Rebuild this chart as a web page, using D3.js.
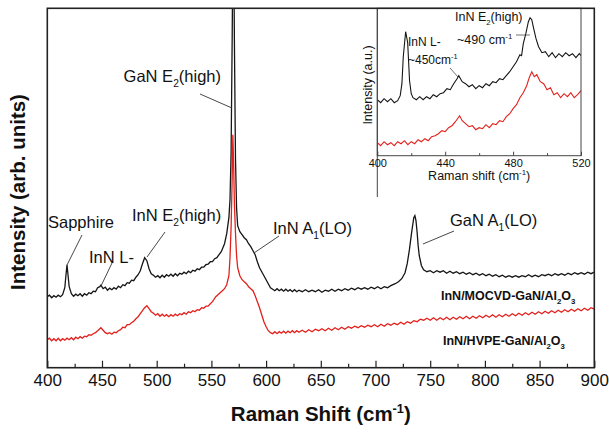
<!DOCTYPE html>
<html>
<head>
<meta charset="utf-8">
<script src="https://cdn.jsdelivr.net/npm/d3@7"></script>
<style>
  body { margin: 0; background: #fff; }
  text { font-family: "Liberation Sans", Arial, sans-serif; fill: #111; }
</style>
</head>
<body>
<script>
// Raman spectra, [shift cm-1, intensity arb. units]
var mocvdMain = [[400,71],[402,72.5],[404,70],[406,72],[408,70.5],[410,72.5],[412,71],[414,73],[416,80],[417,92],[418,103],[419,92],[420,81],[422,74],[424,71.5],[426,73.5],[428,72],[430,74],[432,71.5],[434,74],[436,72.5],[438,75],[440,74],[442,76.5],[444,76],[446,80],[448,81],[449,82.5],[451,79],[453,80.5],[455,77.5],[457,79.5],[459,78],[461,80],[463,78.5],[465,81.5],[467,80],[469,83],[471,82],[473,85],[475,84.5],[477,87.5],[479,87],[481,90.5],[483,93],[485,97],[487,104],[489,110],[491,107],[493,99],[495,94],[497,92.5],[499,90.5],[501,92],[503,90],[505,92.5],[507,90.5],[509,93],[511,91.5],[513,93.5],[515,91.5],[517,94],[519,92],[521,94.5],[523,93.5],[525,95.5],[527,94],[529,96.5],[531,95],[533,97.5],[535,96.5],[537,99],[539,98],[541,100.5],[543,100.5],[545,103],[547,103.5],[549,106],[551,106],[553,109],[555,110],[557,113],[559,116],[562,124],[564,134],[566,150],[567,168],[568,215],[569,330],[569.6,420],[570.4,420],[571,330],[572,210],[573,160],[574,142],[576,136],[578,133],[580,130],[582,128],[584,124],[586,121],[588,117],[590,113],[592,106],[594,100],[596,96],[598,92],[600,88],[602,84],[604,80],[606,78.5],[608,77],[610,79],[612,77],[614,78.5],[616,76.5],[618,78.5],[620,76.5],[622,78],[624,76],[626,78],[628,76],[630,77.5],[633,76],[636,78],[639,76],[642,77.5],[645,76],[648,78],[651,75.5],[654,77.5],[657,76.5],[660,78.5],[663,76.5],[666,78.5],[669,77],[672,79],[675,77.5],[678,79.5],[681,78],[684,80],[687,78.5],[690,80],[693,78.5],[696,80.5],[699,79],[702,81],[705,79],[708,81],[711,80],[714,82],[718,84],[721,86],[724,89],[727,95],[729,104],[731,118],[733,135],[735,150],[736,152],[737,147],[738,136],[739,122],[740,112],[742,102],[744,98],[747,96],[750,97],[753,95],[756,97],[759,95.5],[762,97],[765,94.5],[768,96.5],[771,94.5],[774,96],[777,94],[780,95.5],[783,93.5],[786,95],[789,93],[792,94.5],[795,92.5],[798,94],[801,92],[804,93.5],[807,91.5],[810,93],[813,91],[816,92.5],[819,90.5],[822,92],[825,90.5],[828,92],[831,90.5],[834,92],[837,91],[840,93],[843,91],[846,92.5],[849,91],[852,93],[855,92],[858,93.5],[861,92],[864,94],[867,92.5],[870,94],[873,92.5],[876,94.5],[879,93],[882,95],[885,93.5],[888,95],[891,93.5],[894,95.5],[897,94],[900,95.5]];

var hvpeMain = [[400,28],[402,29.5],[404,27],[406,29],[408,27],[410,29.5],[412,27],[414,29],[416,27.5],[418,29.5],[420,28],[422,30],[424,28],[426,30.5],[428,29],[430,31],[432,29.5],[434,31.5],[436,31],[438,33],[440,32.5],[442,34],[444,35],[446,37],[448,39],[449,40],[451,37.5],[453,35],[455,34],[457,35],[459,33.5],[461,35.5],[463,35],[465,37],[467,38],[469,40.5],[471,40],[473,43],[475,43],[477,45],[479,46.5],[481,49],[483,51],[485,54],[487,57],[489,60],[491,62],[493,59],[495,56],[497,54.5],[499,52.5],[501,54],[503,51.5],[505,53.5],[507,51.5],[509,53],[511,51],[513,53],[515,51.5],[517,53.5],[519,52],[521,54],[523,53],[525,55],[527,53.5],[529,56],[531,55],[533,57],[535,56],[537,58],[539,57.5],[541,60],[543,59.5],[545,61.5],[547,61.5],[549,64],[551,66],[554,71],[557,74],[560,77],[562,79],[564,83],[566,92],[567,110],[568,140],[569,190],[569.6,233],[570.4,200],[571,165],[572,135],[573,112],[574,100],[576,92],[578,88],[580,86],[582,84],[584,81],[586,79],[588,77],[590,72],[592,66],[594,60],[596,53],[598,46],[600,41],[602,37],[604,35],[606,34],[608,36],[610,34],[612,36],[614,34.5],[616,36.5],[618,34.5],[620,36.5],[622,35],[624,37],[626,35],[628,37],[630,35.5],[633,37.5],[636,35.5],[639,38],[642,36],[645,38.5],[648,37],[651,39],[654,37],[657,39.5],[660,37.5],[663,40],[666,38],[669,40.5],[672,38.5],[675,41],[678,39.5],[681,41.5],[684,40],[687,42],[690,40.5],[693,42.5],[696,41],[699,43],[702,41],[705,43.5],[708,41.5],[711,44],[714,42.5],[717,44.5],[720,43],[723,45.5],[726,43.5],[729,46],[732,44.5],[735,47],[738,46],[741,48.5],[744,47.5],[747,49.5],[750,47.5],[753,50],[756,47.5],[759,50],[762,48],[765,50.5],[768,48],[771,50.5],[774,48.5],[777,51],[780,49],[783,51.5],[786,49],[789,51.5],[792,49.5],[795,52],[798,50],[801,52.5],[804,50.5],[807,53],[810,50.5],[813,53],[816,51],[819,53.5],[822,51.5],[825,54],[828,52],[831,54.5],[834,52.5],[837,55],[840,53],[843,55.5],[846,53.5],[849,56],[852,54],[855,56.5],[858,54.5],[861,57],[864,55],[867,57.5],[870,55.5],[873,58],[876,56],[879,58.5],[882,56.5],[885,59],[888,57],[891,59.5],[894,57.5],[897,60],[900,58.5]];

var mocvdInset = [[400,56],[402,53],[404,57],[406,54],[408,57],[410,53],[412,55],[413.5,60],[414.5,72],[415.3,99],[416.7,124],[417.9,113],[419,75],[420,62],[421,58],[423,56],[425,59],[427,56],[429,59],[431,57],[433,61],[435,59],[437,62],[439,63],[441,67],[443,66],[445,72],[447,77],[448,80],[450,74],[452,72],[454,69],[456,71],[458,67],[460,70],[462,68],[464,72],[466,70],[468,74],[470,73],[472,77],[474,76],[476,80],[478,84],[480,89],[482,94],[484,101],[485,100],[486,112],[487.5,122],[489,134],[490,138],[491,136],[492,128],[493.5,117],[495,109],[497,103],[499,104],[501,99],[503,103],[505,98],[507,102],[509,99],[511,103],[513,100],[515,102],[517,98],[519,102],[520,100]];

var hvpeInset = [[400,13],[402,10],[404,14],[406,11],[408,13],[410,10],[412,14],[414,12],[416,15],[418,11],[420,14],[422,12],[424,16],[426,14],[428,17],[430,15],[432,19],[434,20],[436,22],[438,25],[440,24],[442,28],[444,30],[446,34],[448.5,40],[450,35],[452,32],[454,29],[456,30],[458,26],[460,28],[462,27],[464,31],[466,28],[468,32],[470,31],[472,35],[474,34],[476,39],[478,42],[480,47],[482,51],[484,58],[486,63],[488,70],[489.5,78],[491,84],[492.5,79],[494,81],[496,74],[498,72],[500,66],[502,68],[504,61],[506,63],[508,58],[510,62],[512,59],[514,63],[516,58],[518,61],[520,65]];

var mainTicks = [400, 450, 500, 550, 600, 650, 700, 750, 800, 850, 900];
var mainMinor = [425, 475, 525, 575, 625, 675, 725, 775, 825, 875];
var insetTicks = [400, 440, 480, 520];
var insetMinor = [420, 460, 500];

window.onload = function(){
    var svg, main, inset, x, y, xi, yi, line, linei;

    svg = d3.select('body')
        .append('svg')
        .attr('width', 609)
        .attr('height', 432);

    svg.append('rect').attr('width', 609).attr('height', 432).attr('fill', '#fff');

    // main plot area
    var L = 47.3, R = 594.3, T = 8.3, B = 367.7;

    x = d3.scaleLinear().domain([400, 900]).range([L, R]);
    y = d3.scaleLinear().domain([0, 359.4]).range([B, T]);

    svg.append('clipPath').attr('id', 'clipMain')
        .append('rect').attr('x', L).attr('y', T).attr('width', R - L).attr('height', B - T);

    line = d3.line()
        .x(function(d){ return x(d[0]); })
        .y(function(d){ return y(d[1]); });

    main = svg.append('g').attr('clip-path', 'url(#clipMain)');

    main.append('path').datum(hvpeMain)
        .attr('d', line).attr('fill', 'none')
        .attr('stroke', '#e3201b').attr('stroke-width', 1.3);

    main.append('path').datum(mocvdMain)
        .attr('d', line).attr('fill', 'none')
        .attr('stroke', '#151515').attr('stroke-width', 1.3);

    // x axis, ticks pointing inwards
    var xAxis = svg.append('g').attr('transform', 'translate(0,' + B + ')')
        .call(d3.axisBottom(x).tickValues(mainTicks).tickSize(-7).tickPadding(6).tickFormat(d3.format('d')));
    xAxis.select('.domain').remove();
    xAxis.selectAll('text').attr('font-size', 17).attr('font-family', '"Liberation Sans", Arial, sans-serif').attr('fill', '#111');
    xAxis.selectAll('line').attr('stroke', '#222').attr('stroke-width', 1.2);

    var xMinor = svg.append('g').attr('transform', 'translate(0,' + B + ')')
        .call(d3.axisBottom(x).tickValues(mainMinor).tickSize(-4).tickFormat(''));
    xMinor.select('.domain').remove();
    xMinor.selectAll('line').attr('stroke', '#222').attr('stroke-width', 1.2);

    // labels with sub / superscripts
    function label(g, px, py, parts, size, opts){
        opts = opts || {};
        var t = g.append('text').attr('x', px).attr('y', py)
            .attr('font-size', size)
            .attr('font-weight', opts.bold ? 'bold' : 'normal')
            .attr('text-anchor', opts.anchor || 'start');
        if (opts.rotate) t.attr('transform', 'rotate(-90,' + px + ',' + py + ')');
        var shift = 0;
        parts.forEach(function(p){
            var target = p.sub ? size * 0.32 : (p.sup ? -size * 0.4 : 0);
            t.append('tspan')
                .attr('dy', target - shift)
                .attr('font-size', (p.sub || p.sup) ? size * 0.62 : size)
                .text(p.t);
            shift = target;
        });
        return t;
    }

    function leader(g, x1, y1, x2, y2, w){
        g.append('line').attr('x1', x1).attr('y1', y1).attr('x2', x2).attr('y2', y2)
            .attr('stroke', '#333').attr('stroke-width', w || 0.9);
    }

    // axis titles
    label(svg, (L + R) / 2, 421, [{t: 'Raman Shift (cm'}, {t: '-1', sup: true}, {t: ')'}], 20.5, {bold: true, anchor: 'middle'});
    label(svg, 25, 192, [{t: 'Intensity (arb. units)'}], 20.5, {bold: true, anchor: 'middle', rotate: true});

    // peak annotations
    label(svg, 48, 227.5, [{t: 'Sapphire'}], 16.5);
    leader(svg, 82, 235, 67, 265);
    label(svg, 89, 263, [{t: 'InN L-'}], 16.5);
    leader(svg, 112, 263, 101, 286);
    label(svg, 132, 221, [{t: 'InN E'}, {t: '2', sub: true}, {t: '(high)'}], 16.5);
    leader(svg, 165, 232, 147, 257);
    label(svg, 221, 82, [{t: 'GaN E'}, {t: '2', sub: true}, {t: '(high)'}], 16.5, {anchor: 'end'});
    leader(svg, 200, 94, 232, 108);
    label(svg, 273, 233.5, [{t: 'InN A'}, {t: '1', sub: true}, {t: '(LO)'}], 16.5);
    leader(svg, 279, 236, 254, 253);
    label(svg, 450, 225.5, [{t: 'GaN A'}, {t: '1', sub: true}, {t: '(LO)'}], 16.5);
    leader(svg, 454, 231, 423, 244);

    // sample names
    label(svg, 441, 300, [{t: 'InN/MOCVD-GaN/Al'}, {t: '2', sub: true}, {t: 'O'}, {t: '3', sub: true}], 12.5, {bold: true});
    label(svg, 443, 345, [{t: 'InN/HVPE-GaN/Al'}, {t: '2', sub: true}, {t: 'O'}, {t: '3', sub: true}], 12.5, {bold: true});

    // inset
    var iL = 377.3, iR = 581, iT = 8.3, iB = 155.7;
    svg.append('rect').attr('x', iL).attr('y', T).attr('width', R - iL).attr('height', 197 - T).attr('fill', '#fff');
    svg.append('line').attr('x1', iL).attr('x2', iL).attr('y1', T).attr('y2', 197)
        .attr('stroke', '#444').attr('stroke-width', 1);

    xi = d3.scaleLinear().domain([400, 520]).range([iL, iR]);
    yi = d3.scaleLinear().domain([0, 147.4]).range([iB, iT]);

    svg.append('clipPath').attr('id', 'clipInset')
        .append('rect').attr('x', iL).attr('y', iT).attr('width', iR - iL).attr('height', iB - iT);

    linei = d3.line()
        .x(function(d){ return xi(d[0]); })
        .y(function(d){ return yi(d[1]); });

    inset = svg.append('g').attr('clip-path', 'url(#clipInset)');
    inset.append('path').datum(hvpeInset)
        .attr('d', linei).attr('fill', 'none')
        .attr('stroke', '#e3201b').attr('stroke-width', 1.1);
    inset.append('path').datum(mocvdInset)
        .attr('d', linei).attr('fill', 'none')
        .attr('stroke', '#151515').attr('stroke-width', 1.1);

    svg.append('rect').attr('x', iL).attr('y', iT).attr('width', iR - iL).attr('height', iB - iT)
        .attr('fill', 'none').attr('stroke', '#444').attr('stroke-width', 1);

    var xiAxis = svg.append('g').attr('transform', 'translate(0,' + iB + ')')
        .call(d3.axisBottom(xi).tickValues(insetTicks).tickSize(-4).tickPadding(3.5).tickFormat(d3.format('d')));
    xiAxis.select('.domain').remove();
    xiAxis.selectAll('text').attr('font-size', 11).attr('font-family', '"Liberation Sans", Arial, sans-serif').attr('fill', '#222');
    xiAxis.selectAll('line').attr('stroke', '#444');
    var xiMinor = svg.append('g').attr('transform', 'translate(0,' + iB + ')')
        .call(d3.axisBottom(xi).tickValues(insetMinor).tickSize(-2.5).tickFormat(''));
    xiMinor.select('.domain').remove();
    xiMinor.selectAll('line').attr('stroke', '#444');

    label(svg, (iL + iR) / 2, 180, [{t: 'Raman shift (cm'}, {t: '-1', sup: true}, {t: ')'}], 12.5, {anchor: 'middle'});
    label(svg, 371.5, 85, [{t: 'Intensity (a.u.)'}], 12.5, {anchor: 'middle', rotate: true});

    label(svg, 408, 46, [{t: 'InN L-'}], 12);
    label(svg, 408, 64, [{t: '~450cm'}, {t: '-1', sup: true}], 12);
    leader(svg, 450, 68, 458, 77, 0.7);
    label(svg, 455, 21, [{t: 'InN E'}, {t: '2', sub: true}, {t: '(high)'}], 12.5);
    label(svg, 457, 44, [{t: '~490 cm'}, {t: '-1', sup: true}], 12.5);
    leader(svg, 516, 35, 530, 35, 0.7);

    // main frame
    svg.append('rect').attr('x', L).attr('y', T).attr('width', R - L).attr('height', B - T)
        .attr('fill', 'none').attr('stroke', '#222').attr('stroke-width', 1.6);
};
</script>
</body>
</html>
